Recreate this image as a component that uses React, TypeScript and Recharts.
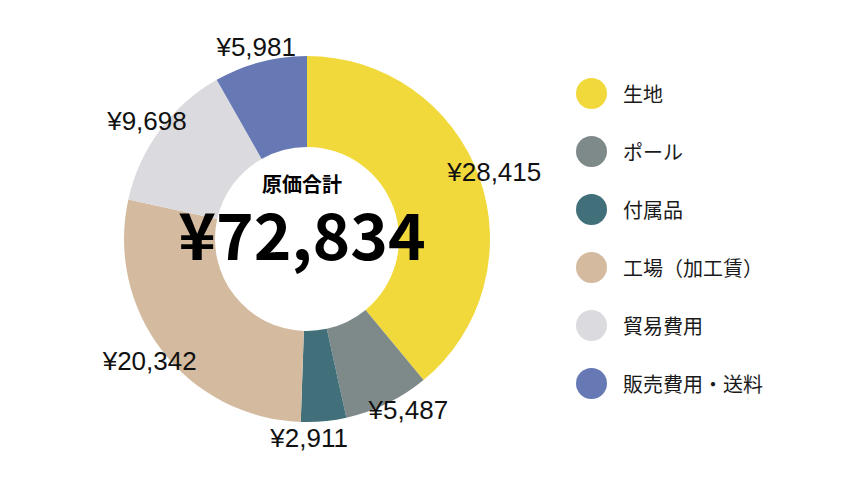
import React from 'react';
import { PieChart, Pie, Cell, Legend } from 'recharts';

const categories = ['生地', 'ポール', '付属品', '工場（加工賃）', '貿易費用', '販売費用・送料'];
const costs = [28415, 5487, 2911, 20342, 9698, 5981];
const colors = ['#F1D93C', '#7E898A', '#41707A', '#D4BBA0', '#DBDADE', '#6679B4'];
const centerTitle = '原価合計';

const CX = 307;
const CY = 239;
const RADIAN = Math.PI / 180;
const total = costs.reduce((a, b) => a + b, 0);
const yen = (v: number) => `¥${v.toLocaleString('en-US')}`;

const data = categories.map((name, i) => ({ name, value: costs[i] }));

// label angles (clockwise from 12 o'clock), pushed apart when neighbours get too close
const MIN_SEP = 30;
const labelAngles = (() => {
  let acc = 0;
  const mids = costs.map((v) => {
    const m = acc + (v / total) * 180;
    acc += (v / total) * 360;
    return m;
  });
  for (let pass = 0; pass < 5; pass++) {
    for (let i = 0; i < mids.length - 1; i++) {
      const gap = mids[i + 1] - mids[i];
      if (gap < MIN_SEP) {
        const push = (MIN_SEP - gap) / 2;
        mids[i] -= push;
        mids[i + 1] += push;
      }
    }
  }
  return mids;
})();

const renderLabel = (props: any) => {
  const { cx, cy, outerRadius, value, index } = props;
  const r = outerRadius + 16;
  const a = labelAngles[index] * RADIAN;
  const x = cx + r * Math.sin(a);
  const y = cy - r * Math.cos(a);
  return (
    <text
      x={x}
      y={y}
      textAnchor="middle"
      dominantBaseline="central"
      fill="#111"
      fontSize={26}
      fontFamily="'Liberation Sans', Arial, sans-serif"
    >
      {yen(value)}
    </text>
  );
};

const renderLegend = () => (
  <ul style={{ listStyle: 'none', margin: 0, padding: 0 }}>
    {categories.map((name, i) => (
      <li key={name} style={{ display: 'flex', alignItems: 'center', height: 58 }}>
        <span
          style={{
            display: 'inline-block',
            width: 31,
            height: 31,
            borderRadius: '50%',
            background: colors[i],
            marginRight: 16,
          }}
        />
        <span style={{ fontSize: 20, color: '#1a1a1a', fontFamily: "'Noto Sans CJK JP', sans-serif" }}>
          {name}
        </span>
      </li>
    ))}
  </ul>
);

export default function App() {
  return (
    <div style={{ position: 'absolute', left: 0, top: 0, width: 852, height: 480, background: '#fff' }}>
      <PieChart width={852} height={480} margin={{ top: 0, right: 0, bottom: 0, left: 0 }}>
        <Pie
          data={data}
          dataKey="value"
          nameKey="name"
          cx={CX}
          cy={CY}
          innerRadius={92}
          outerRadius={183}
          startAngle={90}
          endAngle={-270}
          stroke="none"
          label={renderLabel}
          labelLine={false}
          isAnimationActive={false}
        >
          {data.map((d, i) => (
            <Cell key={d.name} fill={colors[i]} />
          ))}
        </Pie>
        <Legend
          layout="vertical"
          align="right"
          verticalAlign="top"
          content={renderLegend}
          wrapperStyle={{ left: 576, top: 64, width: 260 }}
        />
      </PieChart>
      <svg
        width={852}
        height={480}
        style={{ position: 'absolute', left: 0, top: 0, pointerEvents: 'none' }}
        fontFamily="'Noto Sans CJK JP', sans-serif"
        fontWeight={700}
      >
        <text x={CX - 5} y={CY - 56} textAnchor="middle" dominantBaseline="central" fontSize={20} fill="#000">
          {centerTitle}
        </text>
        <text x={CX - 5} y={CY + 21} textAnchor="middle" fontSize={64} fill="#000">
          {yen(total)}
        </text>
      </svg>
    </div>
  );
}
